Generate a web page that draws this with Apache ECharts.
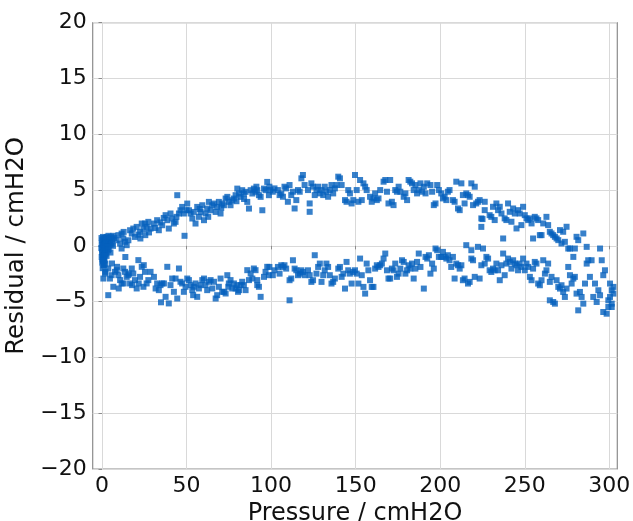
<!DOCTYPE html>
<html>
<head>
<meta charset="utf-8">
<script src="https://cdn.jsdelivr.net/npm/echarts@6/dist/echarts.min.js"></script>
<style>html,body{margin:0;padding:0;background:#fff;}#chart{width:633px;height:521px;}</style>
</head>
<body>
<div id="chart"></div>
<script>
// Tick values
const xTicks = [0, 50, 100, 150, 200, 250, 300];
const yTicks = [-20, -15, -10, -5, 0, 5, 10, 15, 20];

// Points near zero pressure [pressure, residual]
const nearZero = [
[-0.3,0.7],[0.2,0.5],[0.6,0.8],[1.0,0.6],[-0.2,0.2],[0.3,0.1],[0.8,0.3],[1.3,0.4],[1.8,0.7],[2.3,0.5],[2.8,0.8],[3.3,0.6],[3.8,0.9],[4.3,0.7],[4.8,0.5],[5.4,0.8],[6.0,0.6],[6.7,0.9],[7.3,0.7],[-0.4,-0.2],[0.1,-0.3],[0.5,-0.1],[1.1,0.0],[1.6,0.1],[2.1,0.2],[2.6,0.1],[3.1,0.3],[3.7,0.2],[4.4,0.3],[5.1,0.1],[5.8,0.2],[6.5,0.0],[0.0,-0.6],[0.4,-0.8],[0.9,-0.5],[1.4,-0.4],[1.9,-0.2],[2.4,-0.3],[3.0,-0.1],[3.6,-0.4],[-0.2,-1.0],[0.3,-1.2],[0.7,-0.9],[1.2,-1.1],[1.7,-0.8],[2.2,-0.7],[0.1,-1.5],[0.6,-1.4],[1.5,-1.3],[2.7,-0.9],[0.4,-2.0],[1.0,-1.7],[2.0,-1.6],[4.0,-0.3],[5.0,-0.6]
];

// Upper (loading) branch [pressure, residual]
const upperBranch = [
[8.7,0.5],[9.7,0.96],[11.6,1.1],[10.7,0.2],[12.6,0.66],[13.6,0.36],[11.6,-0.24],[14.6,0.06],[15.6,0.5],[16.6,1.4],[18.5,1.55],[17.6,1.1],[19.5,0.8],[20.5,1.7],[22.5,1.25],[23.5,2.0],[25.4,2.0],[26.4,1.7],[27.4,2.15],[12.8,1.25],[13.8,-1.0],[22.7,0.66],[25.6,0.96],[24.5,1.5],[21.5,1.0],[27.8,1.2],
[28.7,1.55],[30.7,2.0],[32.6,2.3],[33.6,1.4],[35.6,1.85],[37.6,2.75],[38.6,2.3],[39.5,1.55],[40.5,2.9],[41.5,2.45],[42.5,2.0],[43.5,2.15],[44.5,4.54],[45.5,2.9],[46.4,3.19],[47.4,3.49],[48.4,2.9],[48.8,0.9],[50.4,3.79],[51.4,3.19],[52.4,2.9],[53.4,2.45],[54.3,3.04],[55.3,2.0],[56.3,3.49],[57.3,2.6],[58.3,3.04],[59.3,3.64],[60.3,2.3],[61.2,2.9],[62.2,3.34],[63.2,3.94],[64.2,3.19],[65.2,3.64],[66.2,3.79],[67.2,3.04],[68.1,3.49],[69.1,3.94],[70.1,2.9],[71.1,3.79],[72.1,3.64],[73.1,4.24],[74.1,4.39],[75.0,3.94],[76.0,3.64],[77.0,4.09],[78.0,4.24],[79.0,4.54],[80.0,5.13],[81.0,4.69],[82.0,4.39],[82.9,4.99],[83.9,4.69],[84.9,4.84],[85.9,3.94],[86.9,3.34],[87.9,4.99],[88.9,4.69],[89.8,5.13],[90.8,4.84],[91.8,4.99],[92.8,4.54],[93.8,4.39],[94.8,3.19],[95.8,5.13],[96.7,4.99],[97.7,5.73],[98.7,4.54],
[31.5,1.6],[36.5,2.5],[44.0,2.6],[50.0,3.2],[57.8,3.3],[62.8,2.6],[70.5,3.4],[79.5,4.0],[84.0,4.2],[91.3,5.3],[99.5,5.0],[34.5,2.1],
[99,5.3],[101,4.85],[102,5.15],[104,5.0],[105,4.55],[106,4.7],[107,4.4],[107.9,5.3],[108.9,5.15],[109.9,3.95],[110.9,5.45],[111.9,4.55],[112.9,4.85],[113.9,3.35],[114.9,4.1],[115.9,5.0],[116.9,4.85],[117.9,6.05],[118.8,6.35],[119.8,5.45],[121.8,5.0],[122.8,3.8],[122.8,3.05],[123.8,5.6],[124.8,5.3],[125.8,4.55],[126.8,5.0],[127.8,5.3],[128.8,4.7],[129.8,5.0],[130.8,4.55],[131.7,5.3],[132.7,4.85],[133.7,4.4],[134.7,5.0],[135.7,5.45],[136.7,4.7],[137.7,5.15],[138.7,5.45],[139.7,6.2],[140.7,6.05],[141.7,5.45],[143.7,4.1],[144.6,3.95],[145.6,5.0],[146.6,4.7],[147.6,3.8],[148.6,4.1],[149.6,6.35],[150.6,5.0],[151.6,3.95],[152.6,5.9],[153.6,4.1],[154.6,5.6],[155.6,5.3],[156.5,5.0],[158.5,4.4],[159.5,3.95],[160.5,4.25],[161.5,4.7],[162.5,4.1],[163.5,4.25],[164.5,5.0],[166.5,5.75],[167.5,5.9],[168.5,4.85],[169.4,3.8],[170.4,5.9],[171.4,3.95],[172.4,3.65],[173.4,5.0],[174.4,4.85],[175.4,5.3],[176.4,4.85],[178.4,4.4],[179.4,4.7],[180.4,4.1],[181.3,5.9],[182.3,5.75],[183.3,5.6],[184.3,5.0],[185.3,5.45],[186.3,4.7],[187.3,5.0],[188.3,5.6],[189.3,4.85],[190.3,5.3],[191.3,4.7],[192.3,5.6],[194.2,5.45],[195.2,4.85],[196.2,3.65],[197.2,3.8],[198.2,5.45],[199.2,5.0],
[200.6,4.7],[201.6,4.25],[202.6,4.4],[203.6,4.1],[204.5,4.85],[205.5,5.0],[207.5,4.1],[208.5,3.95],[209.5,5.75],[210.5,3.35],[211.5,3.2],[212.5,5.6],[213.4,4.55],[214.4,3.8],[215.4,4.7],[216.4,4.55],[217.4,4.4],[218.4,5.6],[219.4,3.65],[220.4,5.3],[221.3,3.8],[222.3,3.95],[223.3,4.1],[224.3,2.46],[225.0,2.4],[224.3,1.7],[226.3,3.95],[226.3,3.2],[229.2,2.75],[230.2,2.6],[231.2,3.5],[232.2,2.31],[233.2,3.8],[234.2,3.2],[235.2,3.5],[236.2,2.9],[237.2,0.66],[238.1,2.46],[239.1,2.31],[240.1,3.8],[241.1,3.05],[242.1,2.16],[243.1,3.35],[244.1,2.9],[245.1,1.56],[246,3.2],[247,2.9],[248,1.86],[249,3.5],[250,2.75],[251,2.46],[252,2.31],[253,2.46],[254,2.01],[254.9,0.66],[255.9,2.6],[256.9,2.46],[257.9,2.31],[258.9,0.96],[259.9,0.96],[260.9,2.01],[262.8,2.6],[263.8,1.86],[264.8,1.26],[265.8,1.11],[266.8,0.96],[267.8,0.81],[268.8,0.66],[269.8,0.51],[270.8,1.41],[271.7,0.21],[272.7,1.26],[273.7,0.36],[274.7,1.71],[275.7,-0.24],[276.7,-0.24],[279.6,-0.24],[280.6,0.81],[281.6,0.51],[284.6,1.11],[286.6,-0.09],[294.5,-0.24]
];

// Lower (unloading) branch [pressure, residual]
const lowerBranch = [
[0.8,-1.28],[1.8,-2.48],[0.8,-2.93],[3.7,-2.03],[4.7,-2.93],[6.7,-3.67],[5.7,-2.63],[3.7,-4.42],[7.7,-2.33],[8.7,-2.18],[9.7,-2.63],[10.7,-3.07],[11.6,-3.37],[12.6,-2.03],[13.6,-2.33],[14.6,-2.78],[15.6,-2.63],[16.6,-3.37],[17.6,-2.03],[18.5,-2.48],[19.5,-3.07],[20.5,-3.82],[21.5,-1.28],[22.5,-2.78],[23.5,-1.88],[24.5,-3.67],[25.4,-2.33],[26.4,-3.37],[27.4,-3.07],
[1.0,-1.73],[2.0,-2.33],[5.9,-1.58],[8.9,-1.88],[9.9,-3.82],[15.8,-2.48],[21.7,-3.37],[24.7,-1.73],[17.8,-3.52],[12.8,-3.37],
[28.7,-2.33],[30.7,-2.78],[31.7,-3.82],[33.6,-3.97],[34.6,-3.52],[35.6,-3.37],[36.6,-3.37],[37.6,-4.57],[38.6,-1.88],[39.5,-5.16],[40.5,-3.52],[41.5,-2.93],[42.5,-4.12],[43.5,-2.93],[44.5,-4.72],[45.5,-2.03],[46.4,-3.22],[47.4,-3.37],[48.4,-4.12],[49.4,-3.67],[50.4,-2.93],[51.4,-3.07],[52.4,-3.52],[53.4,-3.97],[54.3,-3.67],[55.3,-3.37],[56.3,-4.57],[57.3,-3.82],[58.3,-3.52],[59.3,-3.07],[60.3,-2.93],[61.2,-3.52],[62.2,-3.97],[63.2,-3.22],[64.2,-3.07],[65.2,-3.82],[66.2,-3.22],[67.2,-4.72],[68.1,-4.42],[69.1,-3.67],[70.1,-2.93],[71.1,-4.12],[72.1,-4.12],[73.1,-4.27],[74.1,-2.63],[75.0,-3.37],[76.0,-3.07],[77.0,-3.82],[78.0,-3.37],[79.0,-3.82],[80.0,-3.52],[81.0,-3.97],[82.0,-3.52],[82.9,-3.22],[84.9,-3.97],[85.9,-2.18],[86.9,-3.07],[87.9,-2.48],[88.9,-2.93],[89.8,-2.03],[90.8,-2.18],[91.8,-3.52],[92.8,-3.67],[93.8,-4.57],[95.8,-2.78],[96.7,-2.33],[97.7,-1.88],[98.7,-2.63],
[32.6,-3.37],[53.9,-4.42],[74.7,-3.67],[80.4,-4.12],[83.9,-3.52],[91.8,-3.07],[34.9,-5.06],
[99,-1.89],[101,-2.63],[102,-2.19],[104,-1.89],[105,-2.49],[106,-1.74],[107,-1.89],[107.9,-1.74],[108.9,-2.04],[110.9,-3.08],[110.9,-4.88],[111.9,-2.93],[112.9,-1.29],[113.9,-2.04],[114.9,-2.19],[115.9,-2.63],[116.9,-2.49],[117.9,-2.19],[118.8,-2.34],[119.8,-2.63],[121.8,-2.19],[122.8,-2.63],[123.8,-3.23],[124.8,-3.08],[125.8,-0.84],[126.8,-2.49],[127.8,-1.89],[128.8,-1.59],[129.8,-3.23],[130.8,-2.63],[131.7,-2.19],[132.7,-1.59],[133.7,-1.89],[134.7,-2.63],[135.7,-3.38],[136.7,-3.23],[137.7,-2.93],[139.7,-2.04],[140.7,-1.89],[141.7,-2.78],[142.7,-2.49],[143.7,-3.83],[144.6,-1.44],[145.6,-2.19],[146.6,-2.49],[147.6,-3.38],[148.6,-2.34],[149.6,-2.19],[150.6,-2.49],[151.6,-3.38],[152.6,-1.14],[153.6,-2.63],[154.6,-3.68],[155.6,-4.28],[156.5,-1.59],[157.5,-2.19],[158.5,-3.08],[159.5,-3.68],[160.5,-3.68],[161.5,-2.04],[162.5,-1.74],[163.5,-1.89],[164.5,-1.74],[165.5,-1.59],[166.5,-1.14],[167.5,-0.69],[168.5,-2.19],[169.4,-2.93],[170.4,-2.93],[171.4,-2.04],[172.4,-2.19],[173.4,-1.59],[174.4,-2.78],[175.4,-2.49],[176.4,-2.04],[177.4,-1.29],[178.4,-1.44],[179.4,-2.49],[180.4,-2.19],[181.3,-1.74],[182.3,-2.04],[183.3,-1.59],[184.3,-2.93],[185.3,-2.04],[186.3,-1.44],[187.3,-0.69],[188.3,-1.89],[190.3,-3.83],[191.3,-0.99],[192.3,-1.14],[193.3,-0.84],[194.2,-2.49],[195.2,-1.59],[196.2,-2.04],[197.2,-0.24],[198.2,-0.39],[199.2,-0.99],
[200.6,-0.99],[201.6,-0.54],[202.6,-0.99],[203.6,-1.14],[204.5,-0.84],[205.5,-1.29],[206.5,-1.89],[207.5,-0.99],[208.5,-2.93],[209.5,-1.59],[210.5,-1.74],[211.5,-2.04],[212.5,-1.74],[213.4,-3.08],[214.4,-2.93],[215.4,0.06],[216.4,-3.38],[217.4,-3.23],[218.4,-0.39],[218.4,-1.14],[219.4,-1.29],[220.4,-2.78],[222.3,-0.09],[223.3,-2.93],[224.3,-1.74],[225.3,-0.24],[226.3,-1.59],[227.3,-0.99],[228.3,-1.14],[229.2,-2.19],[230.2,-2.34],[231.2,-2.04],[232.2,-2.19],[233.2,-1.59],[234.2,-2.19],[235.2,-3.08],[236.2,-1.74],[237.2,-0.69],[238.1,-2.63],[239.1,-1.59],[240.1,-1.14],[241.1,-1.44],[242.1,-2.04],[243.1,-1.29],[244.1,-1.59],[245.1,-1.74],[246,-2.19],[247,-1.59],[248,-1.89],[249,-1.14],[250,-2.19],[251,-1.59],[252,-1.89],[253,-2.78],[254,-3.08],[254.9,-2.04],[255.9,-1.44],[256.9,-1.59],[257.9,-3.38],[258.9,-3.53],[259.9,-3.08],[260.9,-1.29],[261.9,-2.49],[262.8,-2.19],[263.8,-1.59],[264.8,-3.23],[264.8,-4.88],[265.8,-2.78],[266.8,-5.03],[267.8,-5.18],[268.8,-3.08],[269.8,-3.68],[270.8,-3.83],[271.7,-3.53],[272.7,-4.13],[273.7,-4.58],[274.7,-3.83],[275.7,-1.89],[276.7,-2.63],[277.7,-3.38],[278.7,-0.99],[278.7,-2.93],[279.6,-2.78],[280.6,-4.28],[281.6,-5.78],[282.6,-4.13],[283.6,-4.58],[284.6,-5.18],[285.6,-3.38],[286.6,-1.59],[287.5,-1.29],[288.5,-2.78],[289.5,-1.29],[290.5,-4.58],[291.5,-3.38],[292.5,-5.03],[293.5,-3.98],[294.5,-4.43],[295.5,-1.29],[296.4,-2.63],[296.4,-5.93],[297.4,-2.19],[298.4,-6.08],[299.4,-5.48],[299.4,-4.88],[300.4,-3.38],[300.4,-4.58],[301.4,-3.98],[301.4,-5.18],[302.4,-4.28],[302.4,-3.68],[301.4,-5.48]
];

const chart = echarts.init(document.getElementById('chart'), null, {renderer: 'canvas'});
const textColor = '#111111';
const fontFamily = 'DejaVu Sans';
const minusFmt = v => String(v).replace('-', '\u2212');

const pointStyle = {color: '#0560bd'};
chart.setOption({
  animation: false,
  backgroundColor: '#ffffff',
  grid: {left: 92.7, top: 22.7, right: 15.7, bottom: 52, outerBoundsMode: 'none', containLabel: false,
         show: true, borderColor: '#8c8c8c', borderWidth: 1.2, backgroundColor: 'transparent'},
  xAxis: {
    type: 'value', min: -5.5, max: 304.7,
    name: 'Pressure / cmH2O', nameLocation: 'middle', nameGap: 21,
    nameTextStyle: {fontSize: 24, color: textColor, fontFamily: fontFamily},
    axisLine: {show: false},
    axisTick: {show: true, customValues: xTicks, length: 3.5, lineStyle: {color: '#8c8c8c'}},
    axisLabel: {customValues: xTicks, fontSize: 22, color: textColor, fontFamily: fontFamily, margin: 6, formatter: minusFmt},
    splitLine: {show: true, lineStyle: {color: '#d9d9d9', width: 1}}
  },
  yAxis: {
    type: 'value', min: -20, max: 20, interval: 5,
    name: 'Residual / cmH2O', nameLocation: 'middle', nameGap: 53,
    nameTextStyle: {fontSize: 24.5, color: textColor, fontFamily: fontFamily},
    axisLine: {show: false},
    axisTick: {show: true, length: 3.5, lineStyle: {color: '#8c8c8c'}},
    axisLabel: {fontSize: 22, color: textColor, fontFamily: fontFamily, margin: 6, formatter: minusFmt},
    splitLine: {show: true, lineStyle: {color: '#d9d9d9', width: 1}}
  },
  series: [
    {type: 'scatter', symbol: 'rect', symbolSize: 6, itemStyle: pointStyle, data: nearZero, silent: true},
    {type: 'scatter', symbol: 'rect', symbolSize: 6, itemStyle: pointStyle, data: upperBranch, silent: true},
    {type: 'scatter', symbol: 'rect', symbolSize: 6, itemStyle: pointStyle, data: lowerBranch, silent: true}
  ]
});
</script>
</body>
</html>
